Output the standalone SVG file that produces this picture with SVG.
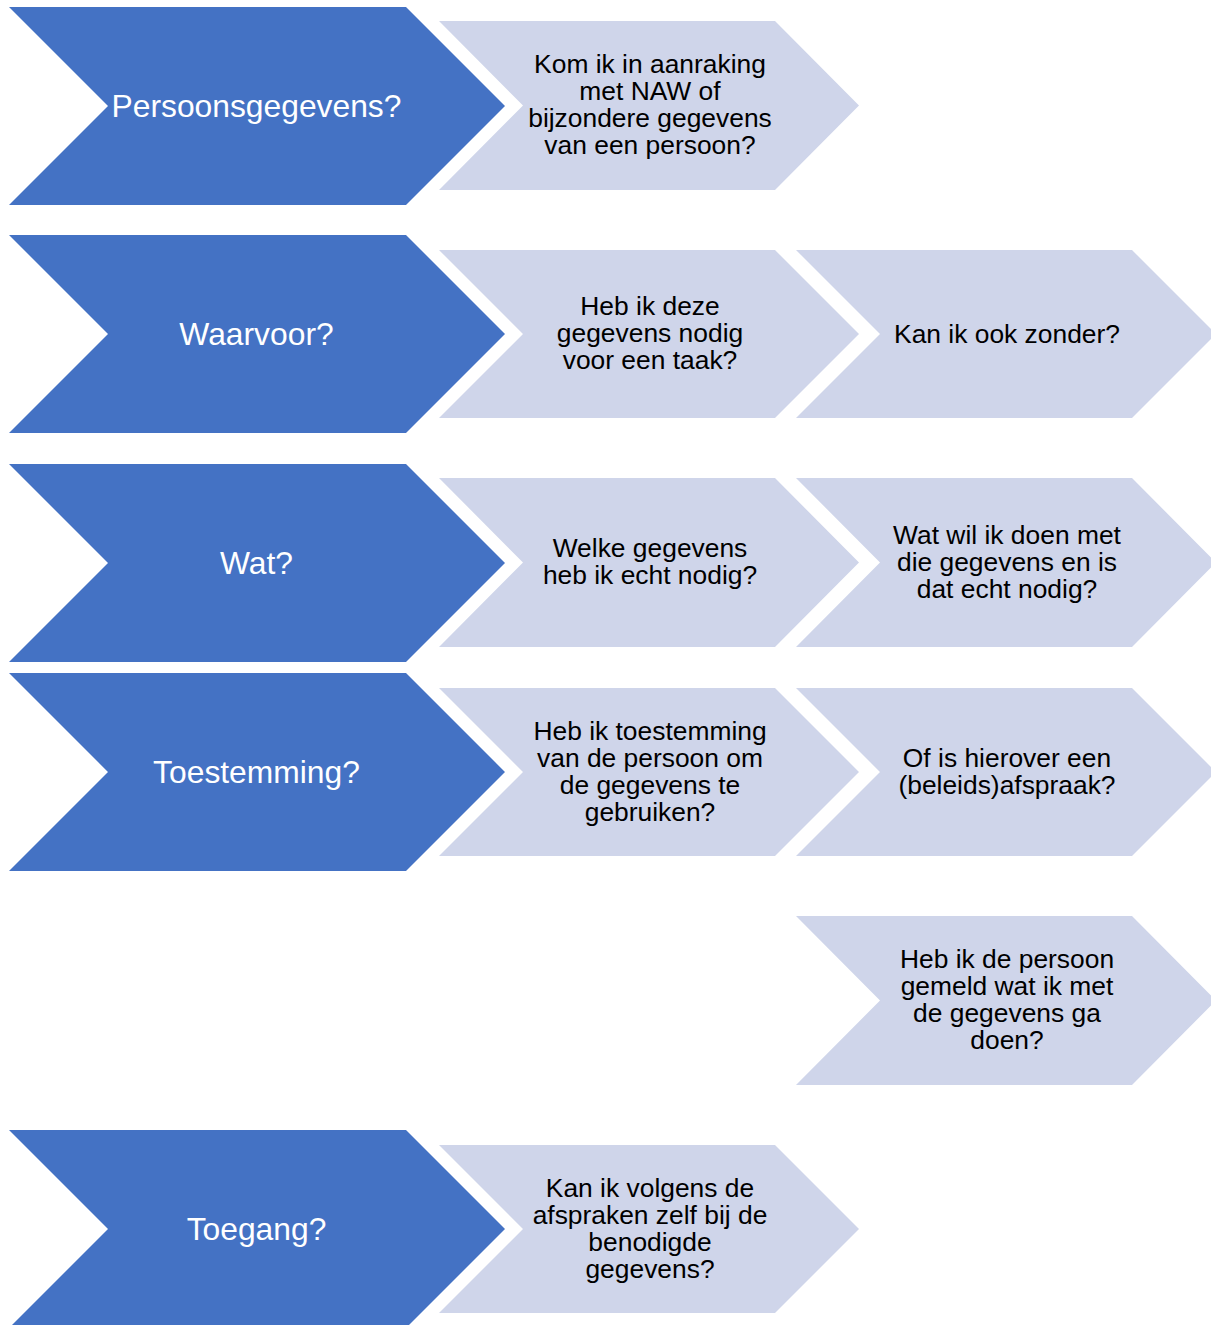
<svg xmlns="http://www.w3.org/2000/svg" width="1211" height="1325" viewBox="0 0 1211 1325">
<style>
.dk{fill:#4472C4}
.lt{fill:#CFD5EA}
.dt{fill:#FFFFFF;font-family:"Liberation Sans",Arial,sans-serif;font-size:31.8px;text-anchor:middle}
.ltt{fill:#000000;font-family:"Liberation Sans",Arial,sans-serif;font-size:26.4px;text-anchor:middle}
</style>
<rect width="1211" height="1325" fill="#FFFFFF"/>
<g id="connectors"></g>

<g id="n-persoonsgegevens">
<polygon class="dk" points="9,7 406,7 505,106 406,205 9,205 108,106"/>
<text class="dt" x="256.5" y="116.5">Persoonsgegevens?</text>
</g>
<g id="n-kom-ik">
<polygon class="lt" points="439,21 775,21 859,105.5 775,190 439,190 523,105.5"/>
<text class="ltt" x="650" y="73">Kom ik in aanraking</text>
<text class="ltt" x="650" y="100">met NAW of</text>
<text class="ltt" x="650" y="127">bijzondere gegevens</text>
<text class="ltt" x="650" y="154">van een persoon?</text>
</g>

<g id="n-waarvoor">
<polygon class="dk" points="9,235 406,235 505,334 406,433 9,433 108,334"/>
<text class="dt" x="256.5" y="344.5">Waarvoor?</text>
</g>
<g id="n-heb-ik-deze">
<polygon class="lt" points="439,250 775,250 859,334 775,418 439,418 523,334"/>
<text class="ltt" x="650" y="315">Heb ik deze</text>
<text class="ltt" x="650" y="342">gegevens nodig</text>
<text class="ltt" x="650" y="369">voor een taak?</text>
</g>
<g id="n-kan-ik-ook">
<polygon class="lt" points="796,250 1132,250 1216,334 1132,418 796,418 880,334"/>
<text class="ltt" x="1007" y="343">Kan ik ook zonder?</text>
</g>

<g id="n-wat">
<polygon class="dk" points="9,464 406,464 505,563 406,662 9,662 108,563"/>
<text class="dt" x="256.5" y="573.5">Wat?</text>
</g>
<g id="n-welke-gegevens">
<polygon class="lt" points="439,478 775,478 859,562.5 775,647 439,647 523,562.5"/>
<text class="ltt" x="650" y="557">Welke gegevens</text>
<text class="ltt" x="650" y="584">heb ik echt nodig?</text>
</g>
<g id="n-wat-wil-ik">
<polygon class="lt" points="796,478 1132,478 1216,562.5 1132,647 796,647 880,562.5"/>
<text class="ltt" x="1007" y="543.5">Wat wil ik doen met</text>
<text class="ltt" x="1007" y="570.5">die gegevens en is</text>
<text class="ltt" x="1007" y="597.5">dat echt nodig?</text>
</g>

<g id="n-toestemming">
<polygon class="dk" points="9,673 406,673 505,772 406,871 9,871 108,772"/>
<text class="dt" x="256.5" y="782.5">Toestemming?</text>
</g>
<g id="n-heb-ik-toestemming">
<polygon class="lt" points="439,688 775,688 859,772 775,856 439,856 523,772"/>
<text class="ltt" x="650" y="739.5">Heb ik toestemming</text>
<text class="ltt" x="650" y="766.5">van de persoon om</text>
<text class="ltt" x="650" y="793.5">de gegevens te</text>
<text class="ltt" x="650" y="820.5">gebruiken?</text>
</g>
<g id="n-of-is-hierover">
<polygon class="lt" points="796,688 1132,688 1216,772 1132,856 796,856 880,772"/>
<text class="ltt" x="1007" y="766.5">Of is hierover een</text>
<text class="ltt" x="1007" y="793.5">(beleids)afspraak?</text>
</g>

<g id="n-heb-ik-de-persoon">
<polygon class="lt" points="796,916 1132,916 1216,1000.5 1132,1085 796,1085 880,1000.5"/>
<text class="ltt" x="1007" y="967.5">Heb ik de persoon</text>
<text class="ltt" x="1007" y="994.5">gemeld wat ik met</text>
<text class="ltt" x="1007" y="1021.5">de gegevens ga</text>
<text class="ltt" x="1007" y="1048.5">doen?</text>
</g>

<g id="n-toegang">
<polygon class="dk" points="9,1130 406,1130 505,1229 406,1328 9,1328 108,1229"/>
<text class="dt" x="256.5" y="1239.5">Toegang?</text>
</g>
<g id="n-kan-ik-volgens">
<polygon class="lt" points="439,1145 775,1145 859,1229 775,1313 439,1313 523,1229"/>
<text class="ltt" x="650" y="1196.5">Kan ik volgens de</text>
<text class="ltt" x="650" y="1223.5">afspraken zelf bij de</text>
<text class="ltt" x="650" y="1250.5">benodigde</text>
<text class="ltt" x="650" y="1277.5">gegevens?</text>
</g>
</svg>
